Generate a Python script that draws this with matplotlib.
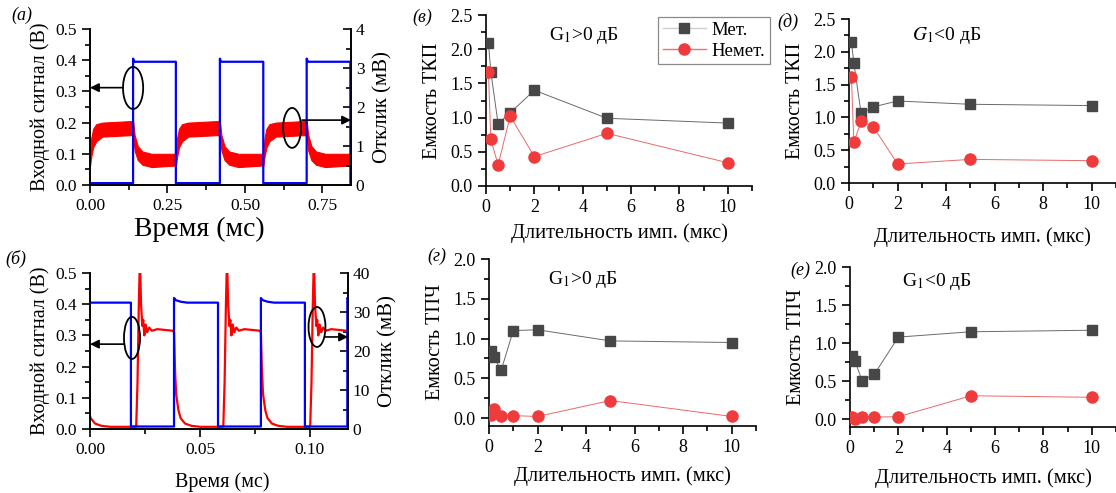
import numpy as np
import matplotlib
matplotlib.use('Agg')
import matplotlib.pyplot as plt
from matplotlib.patches import Ellipse
from matplotlib.ticker import MultipleLocator, FormatStrFormatter

plt.rcParams['font.family'] = ['Liberation Serif', 'DejaVu Serif']
plt.rcParams['mathtext.fontset'] = 'stix'

# ---------------- data: oscillograms ----------------
# (a) blue square wave: edge times (ms), starts low
blue_a_edges = [0.139, 0.277, 0.419, 0.559, 0.699, 0.840]
blue_a_lo, blue_a_hi = 0.006, 0.395
# (a) red response (mV), envelope shapes after each edge
red_a_rise_edges = [0.0, 0.277, 0.559]
red_a_fall_edges = [0.139, 0.419, 0.699]
rise_dt = [0.0, 0.004, 0.01, 0.02, 0.04, 0.135]
rise_up = [0.80, 1.20, 1.44, 1.56, 1.60, 1.64]
rise_lo = [0.48, 0.72, 0.96, 1.12, 1.24, 1.28]
fall_dt = [0.0, 0.005, 0.015, 0.03, 0.06, 0.137]
fall_up = [1.64, 1.28, 1.00, 0.86, 0.80, 0.80]
fall_lo = [1.24, 0.88, 0.64, 0.52, 0.46, 0.50]

# (б) blue square wave, starts high
blue_b_edges = [0.0186, 0.0382, 0.0582, 0.0777, 0.0977, 0.1170]
blue_b_lo = 0.008
blue_b_hi_dt = [0.0, 0.0008, 0.003, 0.006]
blue_b_hi_v = [0.42, 0.413, 0.408, 0.405]
# (б) red response (mV): spike after blue falls, decay after blue rises
red_b_spike_edges = [0.0186, 0.0582, 0.0977]
red_b_decay_edges = [-0.0027, 0.0382, 0.0777, 0.1170]
spike_dt = [0.0, 0.0024, 0.0030, 0.0036, 0.0041, 0.0046, 0.0052, 0.0056,
            0.0061, 0.0067, 0.0074, 0.0083, 0.0095, 0.012, 0.019]
spike_v = [0.56, 0.64, 12.0, 32.0, 44.0, 32.0, 26.4, 28.0,
           24.0, 26.8, 24.8, 26.0, 25.2, 25.6, 25.2]
decay_dt = [0.0, 0.0005, 0.001, 0.002, 0.003, 0.005, 0.008, 0.012]
decay_v = [24.8, 14.4, 8.8, 4.8, 2.8, 1.4, 0.8, 0.56]

# ---------------- data: capacity vs pulse duration ----------------
durations = [0.1, 0.2, 0.5, 1, 2, 5, 10]
tkp_pos_met = [2.09, 1.67, 0.91, 1.07, 1.40, 0.99, 0.92]
tkp_pos_nemet = [1.67, 0.68, 0.31, 1.02, 0.43, 0.77, 0.34]
tkp_neg_met = [2.15, 1.83, 1.06, 1.16, 1.25, 1.20, 1.18]
tkp_neg_nemet = [1.62, 0.62, 0.94, 0.86, 0.29, 0.36, 0.34]
tpch_pos_met = [0.84, 0.77, 0.60, 1.10, 1.11, 0.97, 0.95]
tpch_pos_nemet = [0.04, 0.11, 0.02, 0.03, 0.02, 0.22, 0.02]
tpch_neg_met = [0.83, 0.77, 0.51, 0.59, 1.08, 1.15, 1.17]
tpch_neg_nemet = [0.03, 0.01, 0.035, 0.03, 0.035, 0.31, 0.29]

W, H = 1116, 493


def rect(l, r, t, b):
    return [l / W, 1 - b / H, (r - l) / W, (b - t) / H]


def square_trace(edges, first_high, lo, hi_dt, hi_v, t_end):
    t, y = [0.0], [hi_v[-1] if first_high else lo]
    high = first_high
    for e in edges:
        t.append(e); y.append(y[-1])
        if high:
            t.append(e); y.append(lo)
        else:
            t += [e + d for d in hi_dt]; y += list(hi_v)
        high = not high
    t.append(t_end); y.append(y[-1])
    return np.array(t), np.array(y)


def shaped_trace(events):
    """ events: list of (edge, dt, values...) joined in time order """
    events = sorted(events, key=lambda ev: ev[0])
    t = []
    cols = [[] for _ in range(len(events[0]) - 2)]
    for ev in events:
        t += [ev[0] + d for d in ev[1]]
        for c, v in zip(cols, ev[2:]):
            c += list(v)
    return np.array(t), [np.array(c) for c in cols]


def style_osc(ax, ax2, xmax, xmaj, ymax2, ymaj2):
    ax.set_xlim(0, xmax)
    ax.set_ylim(0, 0.5)
    ax2.set_ylim(0, ymax2)
    ax.xaxis.set_major_locator(MultipleLocator(xmaj))
    ax.xaxis.set_minor_locator(MultipleLocator(xmaj / 2))
    ax.xaxis.set_major_formatter(FormatStrFormatter('%.2f'))
    ax.yaxis.set_major_locator(MultipleLocator(0.1))
    ax.yaxis.set_minor_locator(MultipleLocator(0.05))
    ax.yaxis.set_major_formatter(FormatStrFormatter('%.1f'))
    ax2.yaxis.set_major_locator(MultipleLocator(ymaj2))
    ax2.yaxis.set_minor_locator(MultipleLocator(ymaj2 / 2))
    for a in (ax, ax2):
        a.spines['top'].set_visible(False)
        for s in a.spines.values():
            s.set_linewidth(1.2)
    ax.tick_params(which='both', direction='out', labelsize=12.5, width=1.2)
    ax.tick_params(which='major', length=6)
    ax.tick_params(which='minor', length=3.5)
    ax2.tick_params(which='both', direction='in', labelsize=12.5, width=1.2)
    ax2.tick_params(which='major', length=6)
    ax2.tick_params(which='minor', length=3.5)
    ax.set_zorder(ax2.get_zorder() + 1)
    ax.patch.set_visible(False)
    ax.set_ylabel('Входной сигнал (В)', fontsize=14.5, labelpad=4)
    ax2.set_ylabel('Отклик (мВ)', fontsize=15, labelpad=6)


def mark(ax, center, w, h, start, end):
    ax.add_patch(Ellipse(center, w, h, fill=False, ec='k', lw=1.3, zorder=5))
    ax.annotate('', xy=end, xytext=start, annotation_clip=False,
                arrowprops=dict(arrowstyle='-|>', color='k', lw=1.2,
                                mutation_scale=13, shrinkA=0, shrinkB=0))


fig = plt.figure(figsize=(W / 100, H / 100), dpi=100)

# ---------- (a) ----------
ax_a = fig.add_axes(rect(90, 351, 29, 185))
ax_a2 = ax_a.twinx()
t_ra, (up_a, lo_a) = shaped_trace(
    [(e, rise_dt, rise_up, rise_lo) for e in red_a_rise_edges] +
    [(e, fall_dt, fall_up, fall_lo) for e in red_a_fall_edges])
ax_a2.fill_between(t_ra, lo_a, up_a, color='#ff0000', lw=0.8, ec='#ff0000')
t_ba, y_ba = square_trace(blue_a_edges, False, blue_a_lo, [0.0, 0.004],
                          [0.405, blue_a_hi], 0.842)
ax_a.plot(t_ba, y_ba, color='#0000ff', lw=1.6)
style_osc(ax_a, ax_a2, 0.842, 0.25, 4, 1)
ax_a.set_xlabel('Время (мс)', fontsize=20)
ax_a.xaxis.set_label_coords((199 - 90) / 261, -0.205)
mark(ax_a, (0.139, 0.311), 0.065, 0.135, (0.107, 0.312), (0.0, 0.312))
mark(ax_a, (0.652, 0.183), 0.058, 0.128, (0.684, 0.208), (0.842, 0.208))

# ---------- (б) ----------
ax_b = fig.add_axes(rect(90, 348, 273, 429))
ax_b2 = ax_b.twinx()
t_rb, (v_rb,) = shaped_trace(
    [(e, spike_dt, spike_v) for e in red_b_spike_edges] +
    [(e, decay_dt, decay_v) for e in red_b_decay_edges])
ax_b2.plot(t_rb, v_rb, color='#ff0000', lw=1.6)
t_bb, y_bb = square_trace(blue_b_edges, True, blue_b_lo, blue_b_hi_dt,
                          blue_b_hi_v, 0.1173)
ax_b.plot(t_bb, y_bb, color='#0000ff', lw=1.6)
style_osc(ax_b, ax_b2, 0.1173, 0.05, 40, 10)
ax_b.set_xlabel('Время (мс)', fontsize=14.5)
ax_b.xaxis.set_label_coords((222 - 90) / 258, -0.275)
mark(ax_b, (0.0191, 0.292), 0.0073, 0.135, (0.0155, 0.272), (0.0, 0.272))
mark(ax_b, (0.1032, 0.327), 0.0077, 0.128, (0.1068, 0.295), (0.1173, 0.295))


# ---------- capacity panels ----------
def style_cap(ax, ylo, yhi, ylabel, xpad):
    ax.set_xlim(0, 11)
    ax.set_ylim(ylo, yhi)
    ax.xaxis.set_major_locator(MultipleLocator(2))
    ax.xaxis.set_minor_locator(MultipleLocator(1))
    ax.yaxis.set_major_locator(MultipleLocator(0.5))
    ax.yaxis.set_minor_locator(MultipleLocator(0.25))
    ax.yaxis.set_major_formatter(FormatStrFormatter('%.1f'))
    ax.spines['top'].set_visible(False)
    ax.spines['right'].set_visible(False)
    for s in ax.spines.values():
        s.set_linewidth(1.2)
    ax.tick_params(which='both', direction='out', labelsize=13, width=1.2)
    ax.tick_params(which='major', length=6)
    ax.tick_params(which='minor', length=3.5)
    ax.set_ylabel(ylabel, fontsize=14.5, labelpad=6)
    ax.set_xlabel('Длительность имп. (мкс)', fontsize=14.8, labelpad=xpad)


def draw_cap(ax, met, nemet):
    ax.plot(durations, met, color='#6a6a6a', lw=0.7, marker='s', ms=6.5,
            mfc='#474747', mec='#474747', zorder=3)
    ax.plot(durations, nemet, color='#e86a6a', lw=0.7, marker='o', ms=8,
            mfc='#ef3b3b', mec='#ef3b3b', zorder=4)


ax_v = fig.add_axes(rect(486, 752, 15, 186))
draw_cap(ax_v, tkp_pos_met, tkp_pos_nemet)
style_cap(ax_v, 0, 2.5, 'Емкость ТКП', 5)

ax_d = fig.add_axes(rect(849, 1116, 19, 183))
draw_cap(ax_d, tkp_neg_met, tkp_neg_nemet)
style_cap(ax_d, 0, 2.5, 'Емкость ТКП', 10)

ax_g = fig.add_axes(rect(489, 756, 259, 426))
draw_cap(ax_g, tpch_pos_met, tpch_pos_nemet)
style_cap(ax_g, -0.1, 2.0, 'Емкость ТПЧ', 7)

ax_e = fig.add_axes(rect(850, 1116, 267, 427))
draw_cap(ax_e, tpch_neg_met, tpch_neg_nemet)
style_cap(ax_e, -0.1, 2.0, 'Емкость ТПЧ', 8)

leg = fig.legend(handles=[
    plt.Line2D([], [], color='#cfcfcf', lw=1, marker='s', ms=6.5,
               mfc='#474747', mec='#474747'),
    plt.Line2D([], [], color='#f07070', lw=1, marker='o', ms=8,
               mfc='#ef3b3b', mec='#ef3b3b')],
    labels=['Мет.', 'Немет.'], loc='upper left',
    bbox_to_anchor=(658 / W, 1 - 17 / H), bbox_transform=fig.transFigure,
    borderaxespad=0, fontsize=13.5, handlelength=2.3, fancybox=False,
    framealpha=1, edgecolor='#8a8a8a', borderpad=0.25, labelspacing=0.2,
    handletextpad=0.3)
leg.get_frame().set_linewidth(0.9)

# gain labels
fig.text(584 / W, 1 - 35 / H, 'G$_1$>0 дБ', fontsize=14, ha='center', va='center')
fig.text(947 / W, 1 - 36 / H, '$G_1$<0 дБ', fontsize=14, ha='center', va='center')
fig.text(583 / W, 1 - 279 / H, 'G$_1$>0 дБ', fontsize=14, ha='center', va='center')
fig.text(937 / W, 1 - 281 / H, 'G$_1$<0 дБ', fontsize=14, ha='center', va='center')

# panel letters
for txt, x, y in [('(a)', 22, 15), ('(б)', 16, 259), ('(в)', 422, 17),
                  ('(д)', 788, 22), ('(г)', 437, 256), ('(е)', 800, 270)]:
    fig.text(x / W, 1 - y / H, txt, fontsize=13, style='italic',
             ha='center', va='center')

fig.savefig('out.png', dpi=100)
